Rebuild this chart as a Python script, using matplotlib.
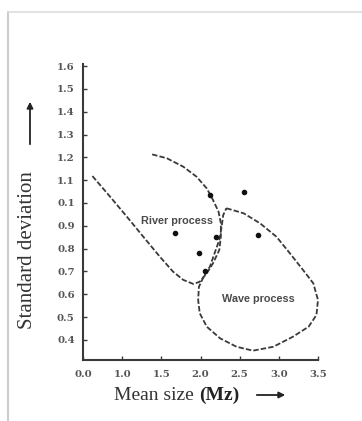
import matplotlib.pyplot as plt
import numpy as np
from matplotlib.lines import Line2D

# Tick values as printed on the original (equally spaced, not linear)
x_ticks = [0.0, 1.0, 1.5, 2.0, 2.5, 3.0, 3.5]
x_tick_labels = ['0.0', '1.0', '1.5', '2.0', '2.5', '3.0', '3.5']
y_ticks = [0.4, 0.5, 0.6, 0.7, 0.8, 0.9, 1.0, 1.1, 1.2, 1.3, 1.4, 1.5, 1.6]
y_tick_labels = ['0.4', '0.5', '0.6', '0.7', '0.8', '0.9', '0.1', '1.1', '1.2', '1.3', '1.4', '1.5', '1.6']

# Sample points (mean size Mz, standard deviation)
pts_mz = [1.67, 2.12, 2.55, 2.74, 2.20, 1.98, 2.06]
pts_sd = [0.870, 1.035, 1.047, 0.860, 0.851, 0.780, 0.703]

# River process boundary (open curve)
river_mz = [0.24, 0.69, 1.06, 1.27, 1.48, 1.65, 1.78, 1.91, 1.99, 2.08, 2.16, 2.24,
            2.26, 2.26, 2.23, 2.16, 2.08, 1.95, 1.78, 1.57, 1.36]
river_sd = [1.118, 1.028, 0.940, 0.852, 0.765, 0.699, 0.663, 0.645, 0.655, 0.692, 0.736, 0.794,
            0.852, 0.911, 0.962, 1.013, 1.064, 1.115, 1.159, 1.196, 1.215]

# Wave process boundary (closed curve)
wave_mz = [2.33, 2.55, 2.76, 2.97, 3.14, 3.31, 3.44, 3.50, 3.48, 3.38, 3.18, 2.93, 2.67,
           2.46, 2.25, 2.08, 1.99, 1.97, 1.98, 2.04, 2.12, 2.18, 2.24, 2.27, 2.29, 2.33]
wave_sd = [0.977, 0.955, 0.911, 0.852, 0.780, 0.706, 0.648, 0.575, 0.509, 0.458, 0.414, 0.370, 0.353,
           0.370, 0.407, 0.458, 0.517, 0.575, 0.633, 0.677, 0.721, 0.780, 0.838, 0.896, 0.947, 0.977]

pos = np.arange(len(x_ticks))


def fwd(v):
    return np.interp(v, x_ticks, pos)


def inv(p):
    return np.interp(p, pos, x_ticks)


ink = '#3a3a3a'
serif = ['Liberation Serif', 'DejaVu Serif']

fig = plt.figure(figsize=(3.62, 4.21), dpi=100)
ax = fig.add_axes([83 / 362, 61 / 421, 235 / 362, 296 / 421])

ax.set_xscale('function', functions=(fwd, inv))
ax.set_xlim(0.0, 3.5)
ax.set_ylim(0.312, 1.609)

dash = dict(color=ink, lw=1.3, ls=(0, (3, 1.2)), clip_on=False)
ax.plot(river_mz, river_sd, **dash)
ax.plot(wave_mz, wave_sd, **dash)
ax.plot(pts_mz, pts_sd, 'o', color='#111111', ms=3, ls='none')

ax.text(1.70, 0.921, 'River process', fontsize=7.8, fontweight='bold', color='#4a4a4a',
        ha='center', va='center', family=['Liberation Sans', 'DejaVu Sans'])
ax.text(2.74, 0.579, 'Wave process', fontsize=7.8, fontweight='bold', color='#4a4a4a',
        ha='center', va='center', family=['Liberation Sans', 'DejaVu Sans'])

ax.set_xticks(x_ticks)
ax.set_xticklabels(x_tick_labels)
ax.set_yticks(y_ticks)
ax.set_yticklabels(y_tick_labels)
for lab in ax.get_xticklabels() + ax.get_yticklabels():
    lab.set_family(['DejaVu Serif'])
    lab.set_fontweight('bold')
    lab.set_fontsize(7.3)
    lab.set_color('#555555')
ax.tick_params(direction='in', length=3, width=1, color=ink)
ax.tick_params(axis='y', pad=6)
ax.tick_params(axis='x', pad=7)

for s in ['top', 'right']:
    ax.spines[s].set_visible(False)
for s in ['left', 'bottom']:
    ax.spines[s].set_color(ink)
    ax.spines[s].set_linewidth(1.5)

# axis labels with arrows
fig.text(28 / 362, 171 / 421, 'Standard deviation', rotation=90, ha='center', va='center',
         fontsize=15, family=serif, color='#333333')
ax.annotate('', xy=(30, 322), xytext=(30, 274), xycoords='figure pixels', textcoords='figure pixels',
            arrowprops=dict(arrowstyle='-|>', color='#222222', lw=1.3, mutation_scale=9))

t1 = fig.text(114 / 362, 26 / 421, 'Mean size ', ha='left', va='center',
              fontsize=14, family=serif, color='#333333')
ax.annotate('(Mz)', xy=(1, 0), xycoords=t1, va='bottom', ha='left',
            fontsize=14, family=serif, fontweight='bold', color='#222222')
ax.annotate('', xy=(288, 26), xytext=(254, 26), xycoords='figure pixels', textcoords='figure pixels',
            arrowprops=dict(arrowstyle='-|>', color='#222222', lw=1.3, mutation_scale=9))

# faint frame at left and top
fig.add_artist(Line2D([8 / 362, 8 / 362], [0, 1 - 12 / 421], color='#cccccc', lw=1.5))
fig.add_artist(Line2D([8 / 362, 1], [1 - 12 / 421, 1 - 12 / 421], color='#dddddd', lw=1.2))

fig.savefig('out.png', dpi=100)
